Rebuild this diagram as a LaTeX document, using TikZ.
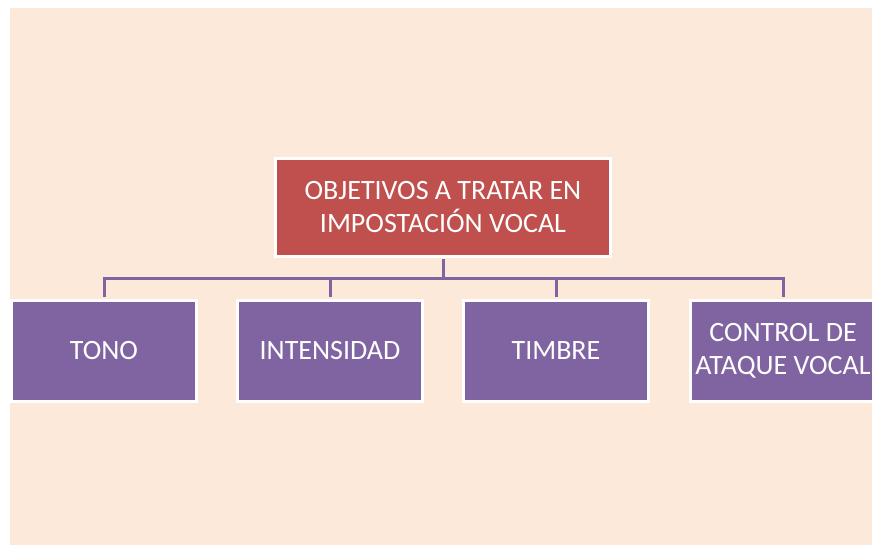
\documentclass[tikz,border=0pt]{standalone}
\usepackage{fontspec}
\setmainfont{Carlito}
\usepackage{tikz}
\definecolor{peach}{HTML}{FDE9D9}
\definecolor{boxred}{HTML}{C0504D}
\definecolor{boxpurple}{HTML}{8064A2}

\begin{document}
\begin{tikzpicture}[
    x=1pt, y=1pt,
    main box/.style={draw=white, line width=3pt, fill=boxred, text=white,
    minimum width=335pt, minimum height=98pt, align=center,
    font=\fontsize{28}{33}\selectfont},
    item box/.style={draw=white, line width=3pt, fill=boxpurple, text=white,
    minimum width=185pt, minimum height=101pt, align=center,
    font=\fontsize{28}{33}\selectfont},
    branch/.style={line width=3pt, color=boxpurple, shorten >=1.5pt, shorten <=1.5pt}
    ]

    % background
    \useasboundingbox (0,0) rectangle (872,545);
    \fill[peach] (10,0) rectangle (872,537);

    % top box
    \node[main box] (objetivos) at (443,337.5) {OBJETIVOS A TRATAR EN\\IMPOSTACIÓN VOCAL};

    % items
    \node[item box] (tono) at (104,194) {TONO};
    \node[item box] (intensidad) at (330,194) {INTENSIDAD};
    \node[item box] (timbre) at (556,194) {TIMBRE};
    \node[item box] (control) at (783,194) {CONTROL DE\\ATAQUE VOCAL};

    % branches
    \foreach \item in {tono,intensidad,timbre,control}
        \draw[branch] (objetivos.south) -- ++(0,-21) -| (\item.north);

\end{tikzpicture}
\end{document}
